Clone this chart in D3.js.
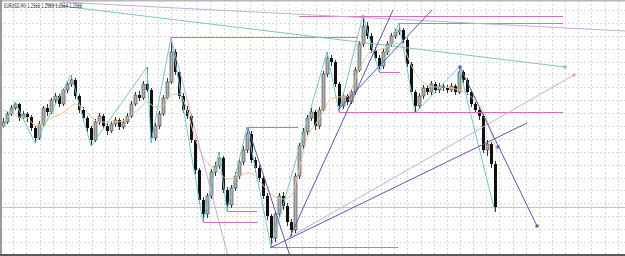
<!DOCTYPE html>
<html>
<head>
<meta charset="utf-8">
<script src="https://cdn.jsdelivr.net/npm/d3@7"></script>
<style>
  html, body { margin: 0; padding: 0; background: #fff; }
  svg { display: block; font-family: "DejaVu Sans", sans-serif; }
</style>
</head>
<body>
<div id="chart"></div>
<script>
// 1: DATA (EURUSD M5)
const title = "EURUSD,M5 1.2566 1.2569 1.2564 1.2566";
const firstOpen = 1.25984;

const closes = [
  1.26000,1.26032,1.26056,1.26072,1.26016,1.26032,1.26020,1.25976,1.25936,1.25992,
  1.26056,1.26040,1.26088,1.26104,1.26072,1.26128,1.26152,1.26168,1.26104,1.26048,
  1.26016,1.25976,1.25928,1.26000,1.26024,1.25984,1.25964,1.25992,1.26008,1.25980,
  1.26000,1.26024,1.26072,1.26108,1.26096,1.26152,1.26128,1.25936,1.25984,1.26032,
  1.26096,1.26160,1.26280,1.26200,1.26104,1.26048,1.26024,1.25928,1.25808,1.25688,
  1.25632,1.25704,1.25800,1.25824,1.25856,1.25728,1.25668,1.25736,1.25784,1.25840,
  1.25888,1.25952,1.25848,1.25816,1.25776,1.25704,1.25624,1.25536,1.25632,1.25704,
  1.25664,1.25600,1.25568,1.25784,1.25904,1.25960,1.26016,1.26040,1.25984,1.26048,
  1.26192,1.26256,1.26240,1.26152,1.26064,1.26104,1.26080,1.26120,1.26208,1.26312,
  1.26384,1.26344,1.26288,1.26256,1.26224,1.26280,1.26312,1.26344,1.26360,1.26368,
  1.26328,1.26232,1.26120,1.26064,1.26104,1.26136,1.26120,1.26152,1.26128,1.26144,
  1.26136,1.26128,1.26144,1.26120,1.26200,1.26168,1.26120,1.26072,1.26048,1.26024,
  1.25888,1.25912,1.25832,1.25660
];

const highs = [
  1.26016,1.26044,1.26068,1.26080,1.26076,1.26044,1.26040,1.26028,1.25984,1.26004,
  1.26064,1.26072,1.26096,1.26116,1.26112,1.26136,1.26164,1.26188,1.26176,1.26112,
  1.26060,1.26024,1.25984,1.26012,1.26036,1.26032,1.25996,1.26004,1.26020,1.26016,
  1.26012,1.26036,1.26084,1.26120,1.26124,1.26164,1.26220,1.26136,1.25996,1.26044,
  1.26108,1.26176,1.26340,1.26292,1.26208,1.26116,1.26064,1.26032,1.25936,1.25816,
  1.25700,1.25716,1.25812,1.25840,1.25880,1.25864,1.25740,1.25748,1.25800,1.25852,
  1.25904,1.25980,1.25964,1.25860,1.25828,1.25788,1.25716,1.25632,1.25644,1.25716,
  1.25720,1.25676,1.25612,1.25796,1.25916,1.25976,1.26028,1.26056,1.26048,1.26060,
  1.26204,1.26280,1.26268,1.26248,1.26160,1.26116,1.26112,1.26132,1.26220,1.26324,
  1.26428,1.26400,1.26356,1.26300,1.26268,1.26292,1.26324,1.26356,1.26372,1.26396,
  1.26376,1.26336,1.26240,1.26128,1.26116,1.26148,1.26148,1.26164,1.26160,1.26156,
  1.26152,1.26148,1.26156,1.26152,1.26220,1.26208,1.26176,1.26128,1.26084,1.26060,
  1.26032,1.25928,1.25920,1.25844
];

const lows = [
  1.25976,1.25992,1.26024,1.26048,1.26004,1.26008,1.26000,1.25964,1.25916,1.25928,
  1.25984,1.26024,1.26032,1.26076,1.26060,1.26064,1.26116,1.26140,1.26092,1.26036,
  1.26004,1.25960,1.25904,1.25920,1.25988,1.25972,1.25948,1.25956,1.25980,1.25968,
  1.25972,1.25992,1.26016,1.26064,1.26084,1.26088,1.26120,1.25916,1.25924,1.25972,
  1.26024,1.26088,1.26152,1.26188,1.26092,1.26036,1.26012,1.25916,1.25792,1.25672,
  1.25600,1.25616,1.25692,1.25784,1.25812,1.25716,1.25644,1.25656,1.25724,1.25772,
  1.25828,1.25876,1.25836,1.25800,1.25760,1.25692,1.25608,1.25500,1.25520,1.25620,
  1.25648,1.25584,1.25544,1.25556,1.25772,1.25892,1.25948,1.26004,1.25968,1.25972,
  1.26040,1.26180,1.26224,1.26140,1.26040,1.26052,1.26068,1.26072,1.26108,1.26200,
  1.26300,1.26332,1.26276,1.26244,1.26200,1.26212,1.26268,1.26300,1.26332,1.26348,
  1.26316,1.26220,1.26108,1.26036,1.26052,1.26092,1.26108,1.26108,1.26116,1.26116,
  1.26124,1.26116,1.26120,1.26108,1.26112,1.26156,1.26108,1.26060,1.26036,1.26008,
  1.25876,1.25864,1.25816,1.25640
];

// zigzag swing bars (alternating low / high, starts on a low)
const zigzagBars = [0,3,8,17,22,36,37,42,50,54,56,61,67,81,84,90,94,99,103,114,123];

// moving average (orange), read every 2 bars
const maBars = [0,2,4,6,8,10,12,14,16,18,20,22,24,26,28,30,32,34,36,38,40,42,44,46,48,50,
  52,54,56,58,60,62,64,66,68,70,72,74,76,78,80,82,84,86,88,90,92,94,96,98,100,
  102,104,106,108,110,112,114,116,118,120,122,123.5];
const maValues = [1.26048,1.26036,1.26020,1.26016,1.25988,1.25992,1.26016,1.26028,1.26048,1.26072,
  1.26056,1.26020,1.26000,1.26000,1.26000,1.26004,1.26028,1.26052,1.26080,1.26060,1.26064,
  1.26108,1.26112,1.26048,1.25936,1.25860,1.25824,1.25800,1.25772,1.25776,1.25792,1.25796,
  1.25768,1.25728,1.25700,1.25692,1.25704,1.25808,1.25936,1.25988,1.26040,1.26092,1.26100,
  1.26100,1.26168,1.26240,1.26280,1.26288,1.26300,1.26316,1.26300,1.26228,1.26176,1.26148,
  1.26140,1.26140,1.26136,1.26128,1.26116,1.26084,1.26048,1.25960,1.25880];

// horizontal levels: [fromBar, toBar, price]
const levels = [
  [74, 140, 1.26424],
  [99, 140, 1.26396],
  [42, 88.5, 1.26340],
  [61, 73.75, 1.25980],
  [56, 63.5, 1.25644],
  [50, 63.75, 1.25600],
  [67, 98.75, 1.25500],
  [84, 140, 1.26040],
  [94, 99.25, 1.26200]
];

// trend lines: [bar1, price1, bar2, price2, kind]
const trendLines = [
  [14.25, 1.26480, 155.5, 1.26364, "lavender"],
  [71.75, 1.25540, 142.75, 1.26188, "lavender"],
  [42, 1.26336, 56.25, 1.25464, "lavender"],
  [10.5, 1.26472, 140.5, 1.26220, "green"],
  [71.75, 1.25540, 97.5, 1.26448, "blue"],
  [83.75, 1.26048, 107.25, 1.26448, "blue"],
  [66.75, 1.25496, 131, 1.25996, "blue"],
  [61.25, 1.25976, 71.75, 1.25464, "blue"],
  [114.25, 1.26220, 133.5, 1.25584, "blue"]
];
// small anchor squares: [bar, price, kind]
const anchors = [
  [142.75, 1.26188, "lavender"],
  [140.5, 1.26220, "green"],
  [114.25, 1.26220, "blue"],
  [123.75, 1.25900, "blue"],
  [133.5, 1.25584, "blue"]
];

// 2: SETUP
const width = 625, height = 256;
const colors = {
  lavender: "#cba9dc", green: "#84c8aa", blue: "#5b57b8",
  level: "#d470bc", zigzag: "#6ccbd2", ma: "#efc58c"
};

const svg = d3.select("#chart").append("svg")
  .attr("width", width).attr("height", height);

const x = d3.scaleLinear().domain([0, 123]).range([3, 495]);
const y = d3.scaleLinear().domain([1.25464, 1.26488]).range([height, 0]);

svg.append("rect").attr("width", width).attr("height", height).attr("fill", "#fff");

// grid (MT4 style dotted)
const grid = svg.append("g").attr("stroke", "#d9d9d9").attr("stroke-dasharray", "2,2");
for (let gx = 13.3; gx < width; gx += 13.14) {
  grid.append("line").attr("x1", Math.round(gx) + 0.5).attr("x2", Math.round(gx) + 0.5)
    .attr("y1", 0).attr("y2", height);
}
for (let gy = 10; gy < height - 4; gy += 12.89) {
  grid.append("line").attr("y1", Math.round(gy) + 0.5).attr("y2", Math.round(gy) + 0.5)
    .attr("x1", 0).attr("x2", width);
}

// bid line
const lastClose = closes[closes.length - 1];
svg.append("line")
  .attr("x1", 0).attr("x2", width)
  .attr("y1", Math.round(y(lastClose)) + 0.5).attr("y2", Math.round(y(lastClose)) + 0.5)
  .attr("stroke", "#c4c4c4").attr("stroke-width", 1);

// 3: CANDLES
const bars = closes.map((c, i) => ({
  i, open: i === 0 ? firstOpen : closes[i - 1], close: c, high: highs[i], low: lows[i]
}));

const candles = svg.append("g");
bars.forEach(d => {
  const cx = Math.round(x(d.i)) + 0.5;
  candles.append("line")
    .attr("x1", cx).attr("x2", cx)
    .attr("y1", y(d.high)).attr("y2", y(d.low))
    .attr("stroke", "#333");
  const top = y(Math.max(d.open, d.close));
  const h = Math.max(1, Math.abs(y(d.open) - y(d.close)));
  const up = d.close >= d.open;
  candles.append("rect")
    .attr("x", cx - 1.5).attr("width", 3)
    .attr("y", top).attr("height", h)
    .attr("fill", up ? "#b0b0b0" : "#111")
    .attr("stroke", up ? "#444" : "none")
    .attr("stroke-width", 0.6);
});

// 4: INDICATORS
const maLine = d3.line().x(d => x(d[0])).y(d => y(d[1])).curve(d3.curveMonotoneX);
svg.append("path")
  .datum(maBars.map((b, k) => [b, maValues[k]]))
  .attr("fill", "none").attr("stroke", colors.ma).attr("stroke-width", 1)
  .attr("d", maLine);

const zz = zigzagBars.map((b, k) => [b, k % 2 === 0 ? lows[b] : highs[b]]);
svg.append("path")
  .datum(zz)
  .attr("fill", "none").attr("stroke", colors.zigzag).attr("stroke-width", 1)
  .attr("d", d3.line().x(d => x(d[0])).y(d => y(d[1])));

// 5: OBJECTS
const objs = svg.append("g");
levels.forEach(([b1, b2, p]) => {
  objs.append("line")
    .attr("x1", x(b1)).attr("x2", x(b2))
    .attr("y1", Math.round(y(p)) + 0.5).attr("y2", Math.round(y(p)) + 0.5)
    .attr("stroke", colors.level).attr("stroke-width", 1);
});
trendLines.forEach(([b1, p1, b2, p2, kind]) => {
  objs.append("line")
    .attr("x1", x(b1)).attr("y1", y(p1))
    .attr("x2", x(b2)).attr("y2", y(p2))
    .attr("stroke", colors[kind]).attr("stroke-width", 1);
});
anchors.forEach(([b, p, kind]) => {
  objs.append("rect")
    .attr("x", x(b) - 1.5).attr("y", y(p) - 1.5)
    .attr("width", 3).attr("height", 3)
    .attr("fill", colors[kind]);
});

// 6: FRAME + TITLE
svg.append("rect").attr("x", 0).attr("y", 0).attr("width", width).attr("height", 1.5).attr("fill", "#b8b8b8");
svg.append("rect").attr("x", 0).attr("y", 0).attr("width", 2).attr("height", height).attr("fill", "#9a9a9a");
svg.append("rect").attr("x", 0).attr("y", height - 2).attr("width", width).attr("height", 2).attr("fill", "#5a5a5a");

svg.append("text")
  .attr("x", 4).attr("y", 8)
  .attr("font-size", 6.5)
  .attr("textLength", 78).attr("lengthAdjust", "spacingAndGlyphs")
  .attr("fill", "#222")
  .text(title);
</script>
</body>
</html>
